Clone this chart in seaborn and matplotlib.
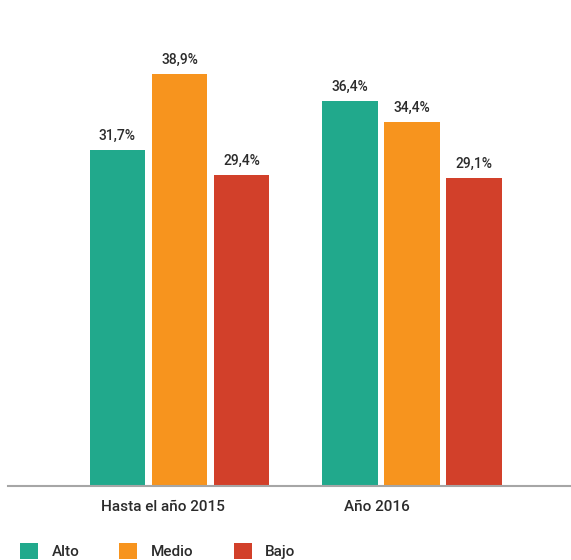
import matplotlib
matplotlib.use("Agg")
import matplotlib.pyplot as plt
import matplotlib.transforms as mtransforms
import pandas as pd
import seaborn as sns

# Data
periods = ["Hasta el año 2015", "Año 2016"]
levels = ["Alto", "Medio", "Bajo"]
alto = [31.7, 36.4]
medio = [38.9, 34.4]
bajo = [29.4, 29.1]
colors = ["#21A98C", "#F7941E", "#D2402A"]

df = pd.DataFrame({
    "periodo": periods * 3,
    "nivel": [l for l in levels for _ in periods],
    "valor": alto + medio + bajo,
})

sns.set_style("white")
plt.rcParams["font.family"] = ["Roboto", "DejaVu Sans"]
text_color = "#2b2b2b"

fig = plt.figure(figsize=(5.71, 5.60), dpi=100)
ax = fig.add_axes([8 / 571, 1 - 486 / 560, 563 / 571, 486 / 560])

sns.barplot(data=df, x="periodo", y="valor", hue="nivel", order=periods,
            hue_order=levels, palette=colors, width=0.8, gap=0.1,
            saturation=1, linewidth=0, ax=ax)

for container in ax.containers:
    ax.bar_label(container, labels=[f"{v:.1f}%".replace(".", ",") for v in container.datavalues],
                 padding=5, fontsize=10, fontweight="medium", color=text_color)

ax.set_ylim(0, 45.9)
ax.set_xlim(-0.7376, 1.684)
ax.set_xlabel("")
ax.set_ylabel("")
ax.set_yticks([])
ax.tick_params(axis="x", length=0, pad=10, labelsize=11, labelcolor=text_color)
# tick labels sit a little left of the group centres in the original
shifts = [-17, -35]
for lab, dx in zip(ax.get_xticklabels(), shifts):
    lab.set_fontweight("medium")
    lab.set_transform(lab.get_transform() + mtransforms.ScaledTranslation(dx / 100, 0, fig.dpi_scale_trans))
for s in ["top", "right", "left"]:
    ax.spines[s].set_visible(False)
ax.spines["bottom"].set_color("#a6a6a6")
ax.spines["bottom"].set_linewidth(1.5)

handles, labels = ax.get_legend_handles_labels()
ax.legend_.remove()
leg = fig.legend(handles, labels, loc="center left", bbox_to_anchor=(20 / 571, 1 - 551 / 560),
                 ncol=3, frameon=False, fontsize=11, handlelength=1.18, handleheight=1.3,
                 handletextpad=0.9, columnspacing=2.6, borderpad=0, borderaxespad=0,
                 labelcolor=text_color)
for t in leg.get_texts():
    t.set_fontweight("medium")

fig.savefig("out.png", dpi=100)
